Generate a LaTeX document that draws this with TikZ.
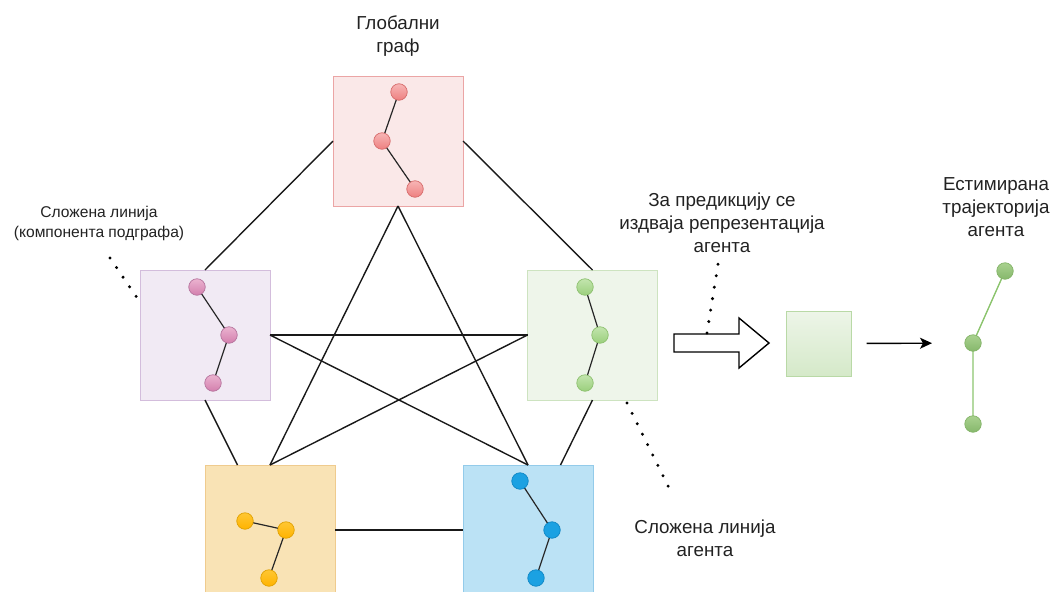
\documentclass[tikz,border=0pt]{standalone}
\usepackage{fontspec}
\setmainfont{Liberation Sans}
\usetikzlibrary{arrows.meta,calc}
\definecolor{txt}{HTML}{222222}
\definecolor{rfill}{HTML}{FAE8E8}\definecolor{rline}{HTML}{EBA5A5}
\definecolor{pfill}{HTML}{F1EAF4}\definecolor{pline}{HTML}{D3BDDC}
\definecolor{gfill}{HTML}{EEF5EA}\definecolor{gline}{HTML}{CDE3C0}
\definecolor{ofill}{HTML}{F9E3B5}\definecolor{oline}{HTML}{EFCB8E}
\definecolor{bfill}{HTML}{BBE2F5}\definecolor{bline}{HTML}{93CBEA}
\definecolor{rdot}{HTML}{EE8080}\definecolor{rdotl}{HTML}{F7B5B5}\definecolor{rdote}{HTML}{D66A6A}
\definecolor{pdot}{HTML}{D37FAD}\definecolor{pdotl}{HTML}{EBB3D0}\definecolor{pdote}{HTML}{B5739D}
\definecolor{gdot}{HTML}{9ACF7C}\definecolor{gdotl}{HTML}{C3E5AE}\definecolor{gdote}{HTML}{8CC06E}
\definecolor{odot}{HTML}{FFB300}\definecolor{odotl}{HTML}{FFC733}\definecolor{odote}{HTML}{E0A000}
\definecolor{bdot}{HTML}{1BA1E2}\definecolor{bdotl}{HTML}{1BA1E2}\definecolor{bdote}{HTML}{0E86C4}
\definecolor{edot}{HTML}{86B86C}\definecolor{edotl}{HTML}{A9D18F}\definecolor{edote}{HTML}{82B366}
\definecolor{eline}{HTML}{8CC46E}
\definecolor{sline}{HTML}{B9D9A6}\definecolor{stop}{HTML}{EDF5E8}\definecolor{sbot}{HTML}{D5E9C9}
\tikzset{
  box/.style={draw=#1line, fill=#1fill, line width=0.9pt, minimum width=130pt, minimum height=130pt, inner sep=0pt, outer sep=0pt},
  dot/.style={circle, draw=#1dote, top color=#1dotl, bottom color=#1dot, line width=0.7pt, minimum size=16.5pt, inner sep=0pt, outer sep=0pt},
  link/.style={line width=1.2pt, black!85},
  edge/.style={line width=1.4pt, black!90},
  lbl/.style={text=txt, align=center, font=\fontsize{18.8}{23}\selectfont, inner sep=0pt},
  lbls/.style={text=txt, align=center, font=\fontsize{15.6}{20}\selectfont, inner sep=0pt},
  dotted line/.style={line width=3.3pt, line cap=round, dash pattern=on 0pt off 11.6pt, black},
}
\begin{document}
\begin{tikzpicture}[x=1pt,y=-1pt]
\useasboundingbox (0,0) rectangle (1053,592);
% boxes
\node[box=r] (R) at (398,141) {};
\node[box=p] (P) at (205,335) {};
\node[box=g] (G) at (592.5,335) {};
\node[box=o] (O) at (270,530) {};
\node[box=b] (B) at (528,530) {};
% edges
\draw[edge] (R.west) -- (P.north);
\draw[edge] (R.east) -- (G.north);
\draw[edge] (R.south) -- (O.north);
\draw[edge] (R.south) -- (B.north);
\draw[edge] (P.east) -- (G.west);
\draw[edge] (P.east) -- (B.north);
\draw[edge] (G.west) -- (O.north);
\draw[edge] (P.south) -- ($(O.north west)!0.25!(O.north east)$);
\draw[edge] (G.south) -- ($(B.north west)!0.75!(B.north east)$);
\draw[edge] (O.east) -- (B.west);
% dots in boxes
\draw[link] (399,92) coordinate (r1) -- (382,141) coordinate (r2) -- (415,189) coordinate (r3);
\node[dot=r] (R1) at (r1) {}; \node[dot=r] (R2) at (r2) {}; \node[dot=r] (R3) at (r3) {};
\draw[link] (197,287) coordinate (p1) -- (229,335) coordinate (p2) -- (213,383) coordinate (p3);
\node[dot=p] (P1) at (p1) {}; \node[dot=p] (P2) at (p2) {}; \node[dot=p] (P3) at (p3) {};
\draw[link] (585,287) coordinate (g1) -- (600,335) coordinate (g2) -- (585,383) coordinate (g3);
\node[dot=g] (G1) at (g1) {}; \node[dot=g] (G2) at (g2) {}; \node[dot=g] (G3) at (g3) {};
\draw[link] (245,521) coordinate (o1) -- (286,530) coordinate (o2) -- (269,578) coordinate (o3);
\node[dot=o] (O1) at (o1) {}; \node[dot=o] (O2) at (o2) {}; \node[dot=o] (O3) at (o3) {};
\draw[link] (520,481) coordinate (b1) -- (552,530) coordinate (b2) -- (536,578) coordinate (b3);
\node[dot=b] (B1) at (b1) {}; \node[dot=b] (B2) at (b2) {}; \node[dot=b] (B3) at (b3) {};
% hollow arrow
\draw[line width=1.4pt, fill=white] (674,334) -- (739,334) -- (739,318) -- (769,343) -- (739,368) -- (739,352) -- (674,352) -- cycle;
% small green box
\node[draw=sline, top color=stop, bottom color=sbot, line width=0.9pt, minimum size=65pt, inner sep=0pt, outer sep=0pt] (S) at (819,343.5) {};
% estimated trajectory
\coordinate (e1) at (1005,271);
\coordinate (e2) at (973,343);
\coordinate (e3) at (973,424);
\draw[eline, line width=1.4pt] (e1) -- (e2) -- (e3);
\node[dot=e] (E1) at (e1) {}; \node[dot=e] (E2) at (e2) {}; \node[dot=e] (E3) at (e3) {};
\draw[line width=1.4pt, -{Stealth[length=12pt,width=11pt,inset=3pt]}, shorten <=15pt, shorten >=41pt] (S.east) -- (E2.center);
% dotted pointers
\coordinate (d1a) at (110,258); \coordinate (d1b) at (140,302);
\coordinate (d2a) at (707,333); \coordinate (d2b) at (719,258);
\coordinate (d3a) at (627,403); \coordinate (d3b) at (673,496);
\draw[dotted line] (d1a) -- (d1b);
\draw[dotted line] (d2a) -- (d2b);
\draw[dotted line] (d3a) -- (d3b);
% labels
\node[lbl] (tglob) at (398,36) {Глобални\\граф};
\node[lbls] (tsl) at (99,223) {Сложена линија\\(компонента подграфа)};
\node[lbl] (tpred) at (722,223) {За предикцију се\\издваја репрезентација\\агента};
\node[lbl] (test) at (996,207) {Естимирана\\трајекторија\\агента};
\node[lbl] (tag) at (705,538) {Сложена линија\\агента};
\end{tikzpicture}
\end{document}
